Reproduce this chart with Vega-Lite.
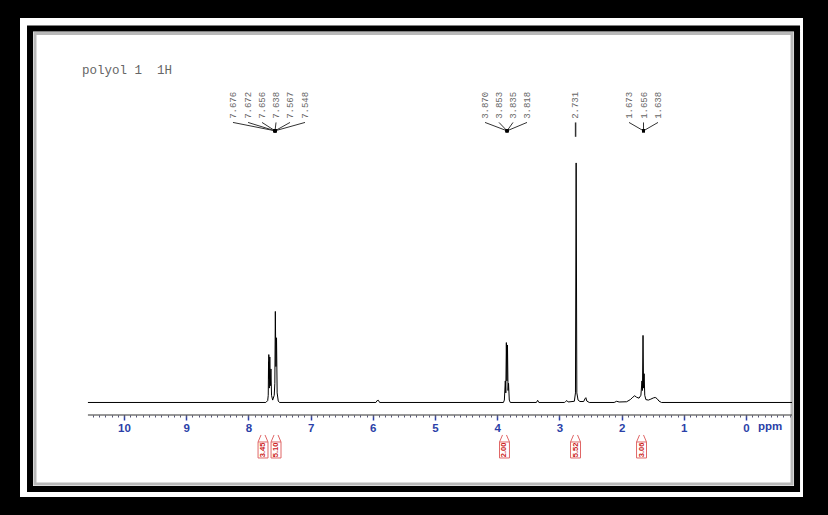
{
  "$schema": "https://vega.github.io/schema/vega-lite/v6.json",
  "width": 783,
  "height": 479,
  "autosize": "none",
  "padding": {"left": 20, "top": 18, "right": 25, "bottom": 18},
  "background": "#000000",
  "config": {"view": {"fill": "#ffffff", "stroke": null}},
  "datasets": {
    "spectrum": [
      {"ppm": 10.58, "i": 0}, {"ppm": 7.72, "i": 0}, {"ppm": 7.69, "i": 0.8}, {"ppm": 7.681, "i": 3},
      {"ppm": 7.676, "i": 17}, {"ppm": 7.674, "i": 10}, {"ppm": 7.672, "i": 20}, {"ppm": 7.664, "i": 6},
      {"ppm": 7.656, "i": 19}, {"ppm": 7.647, "i": 7}, {"ppm": 7.638, "i": 14}, {"ppm": 7.628, "i": 3},
      {"ppm": 7.61, "i": 1}, {"ppm": 7.585, "i": 3}, {"ppm": 7.575, "i": 8}, {"ppm": 7.567, "i": 38},
      {"ppm": 7.558, "i": 15}, {"ppm": 7.548, "i": 27}, {"ppm": 7.538, "i": 4}, {"ppm": 7.52, "i": 0.6},
      {"ppm": 7.5, "i": 0}, {"ppm": 5.95, "i": 0}, {"ppm": 5.93, "i": 0.8}, {"ppm": 5.91, "i": 0.9},
      {"ppm": 5.89, "i": 0}, {"ppm": 3.9, "i": 0}, {"ppm": 3.885, "i": 1}, {"ppm": 3.87, "i": 9},
      {"ppm": 3.862, "i": 4}, {"ppm": 3.853, "i": 25}, {"ppm": 3.844, "i": 9}, {"ppm": 3.835, "i": 24},
      {"ppm": 3.826, "i": 5}, {"ppm": 3.818, "i": 8}, {"ppm": 3.806, "i": 1}, {"ppm": 3.79, "i": 0},
      {"ppm": 3.37, "i": 0}, {"ppm": 3.35, "i": 0.9}, {"ppm": 3.33, "i": 0}, {"ppm": 2.92, "i": 0},
      {"ppm": 2.9, "i": 0.4}, {"ppm": 2.88, "i": 0.8}, {"ppm": 2.86, "i": 0.2}, {"ppm": 2.76, "i": 0.5},
      {"ppm": 2.742, "i": 4}, {"ppm": 2.731, "i": 100}, {"ppm": 2.72, "i": 4}, {"ppm": 2.7, "i": 1},
      {"ppm": 2.67, "i": 0.4}, {"ppm": 2.61, "i": 0.4}, {"ppm": 2.59, "i": 1.5}, {"ppm": 2.575, "i": 2},
      {"ppm": 2.56, "i": 0.6}, {"ppm": 2.52, "i": 0}, {"ppm": 2.12, "i": 0}, {"ppm": 2.08, "i": 0.5},
      {"ppm": 2.04, "i": 0.2}, {"ppm": 1.92, "i": 0.3}, {"ppm": 1.86, "i": 1.2}, {"ppm": 1.82, "i": 2.2},
      {"ppm": 1.79, "i": 2.8}, {"ppm": 1.76, "i": 2.2}, {"ppm": 1.72, "i": 1.8}, {"ppm": 1.69, "i": 3},
      {"ppm": 1.673, "i": 9}, {"ppm": 1.665, "i": 5}, {"ppm": 1.656, "i": 28}, {"ppm": 1.647, "i": 6},
      {"ppm": 1.638, "i": 12}, {"ppm": 1.628, "i": 3}, {"ppm": 1.61, "i": 1.2}, {"ppm": 1.57, "i": 1},
      {"ppm": 1.53, "i": 1.4}, {"ppm": 1.49, "i": 1.9}, {"ppm": 1.46, "i": 2.1}, {"ppm": 1.43, "i": 1.6},
      {"ppm": 1.4, "i": 0.6}, {"ppm": 1.36, "i": 0}, {"ppm": -0.74, "i": 0}
    ],
    "labels": [
      {"label": "7.676", "lx": 8.248}, {"label": "7.672", "lx": 8.006}, {"label": "7.656", "lx": 7.781},
      {"label": "7.638", "lx": 7.556}, {"label": "7.567", "lx": 7.331}, {"label": "7.548", "lx": 7.09},
      {"label": "3.870", "lx": 4.196}, {"label": "3.853", "lx": 3.971}, {"label": "3.835", "lx": 3.746},
      {"label": "3.818", "lx": 3.521}, {"label": "2.731", "lx": 2.749},
      {"label": "1.673", "lx": 1.881}, {"label": "1.656", "lx": 1.648}, {"label": "1.638", "lx": 1.415}
    ],
    "links": [
      {"lx": 8.248, "px": 7.572}, {"lx": 8.006, "px": 7.572}, {"lx": 7.781, "px": 7.572},
      {"lx": 7.556, "px": 7.572}, {"lx": 7.331, "px": 7.572}, {"lx": 7.09, "px": 7.572},
      {"lx": 4.196, "px": 3.842}, {"lx": 3.971, "px": 3.842}, {"lx": 3.746, "px": 3.842}, {"lx": 3.521, "px": 3.842},
      {"lx": 1.881, "px": 1.648}, {"lx": 1.648, "px": 1.648}, {"lx": 1.415, "px": 1.648}
    ],
    "integrals": [
      {"label": "3.45", "from": 7.845, "to": 7.685, "mid": 7.765},
      {"label": "5.10", "from": 7.636, "to": 7.476, "mid": 7.556},
      {"label": "2.00", "from": 3.963, "to": 3.803, "mid": 3.883},
      {"label": "5.52", "from": 2.821, "to": 2.661, "mid": 2.741},
      {"label": "3.06", "from": 1.76, "to": 1.6, "mid": 1.68}
    ],
    "brackets": [
      {"a": 7.797, "b": 7.845}, {"a": 7.733, "b": 7.685},
      {"a": 7.588, "b": 7.636}, {"a": 7.524, "b": 7.476},
      {"a": 3.915, "b": 3.963}, {"a": 3.851, "b": 3.803},
      {"a": 2.773, "b": 2.821}, {"a": 2.709, "b": 2.661},
      {"a": 1.712, "b": 1.76}, {"a": 1.648, "b": 1.6}
    ]
  },
  "layer": [
    {
      "data": {"values": [{}]},
      "mark": {"type": "rect", "fill": null, "stroke": "#000000", "strokeWidth": 6},
      "encoding": {
        "x": {"datum": 11.511, "type": "quantitative", "scale": {"domain": [-0.916, 11.672], "reverse": true, "nice": false, "zero": false}, "axis": null},
        "x2": {"datum": -0.82},
        "y": {"datum": 156.16, "type": "quantitative", "scale": {"domain": [-39.46, 160.5], "nice": false, "zero": false}, "axis": null},
        "y2": {"datum": -36.12}
      }
    },
    {
      "data": {"values": [{}]},
      "mark": {"type": "rect", "fill": null, "stroke": "#9a9a9a", "strokeWidth": 3, "strokeOpacity": 0.7},
      "encoding": {
        "x": {"datum": 11.431, "type": "quantitative", "scale": {"domain": [-0.916, 11.672], "reverse": true, "nice": false, "zero": false}, "axis": null},
        "x2": {"datum": -0.74},
        "y": {"datum": 154.07, "type": "quantitative", "scale": {"domain": [-39.46, 160.5], "nice": false, "zero": false}, "axis": null},
        "y2": {"datum": -34.03}
      }
    },
    {
      "data": {"name": "spectrum"},
      "mark": {"type": "line", "color": "#000000", "strokeWidth": 1},
      "encoding": {
        "x": {"field": "ppm", "type": "quantitative", "scale": {"domain": [-0.916, 11.672], "reverse": true, "nice": false, "zero": false},
          "axis": {"values": [0, 1, 2, 3, 4, 5, 6, 7, 8, 9, 10], "domain": false, "offset": -82, "orient": "bottom", "grid": false, "title": null,
            "tickColor": "#2b3fa8", "tickSize": 5, "tickWidth": 1.5, "labelColor": "#2b3fa8", "labelFont": "Liberation Sans",
            "labelFontWeight": "bold", "labelFontSize": 11.5, "labelPadding": 2, "labelFlush": false, "labelOverlap": false}},
        "y": {"field": "i", "type": "quantitative", "scale": {"domain": [-39.46, 160.5], "nice": false, "zero": false}, "axis": null}
      }
    },
    {
      "data": {"values": [{}]},
      "mark": {"type": "rule", "color": "#333333", "strokeWidth": 1.2},
      "encoding": {
        "x": {"datum": 10.58, "type": "quantitative", "scale": {"domain": [-0.916, 11.672], "reverse": true, "nice": false, "zero": false},
          "axis": {"values": [-0.7, -0.6, -0.5, -0.4, -0.3, -0.2, -0.1, 0, 0.1, 0.2, 0.3, 0.4, 0.5, 0.6, 0.7, 0.8, 0.9,
            1, 1.1, 1.2, 1.3, 1.4, 1.5, 1.6, 1.7, 1.8, 1.9, 2, 2.1, 2.2, 2.3, 2.4, 2.5, 2.6, 2.7, 2.8, 2.9,
            3, 3.1, 3.2, 3.3, 3.4, 3.5, 3.6, 3.7, 3.8, 3.9, 4, 4.1, 4.2, 4.3, 4.4, 4.5, 4.6, 4.7, 4.8, 4.9,
            5, 5.1, 5.2, 5.3, 5.4, 5.5, 5.6, 5.7, 5.8, 5.9, 6, 6.1, 6.2, 6.3, 6.4, 6.5, 6.6, 6.7, 6.8, 6.9,
            7, 7.1, 7.2, 7.3, 7.4, 7.5, 7.6, 7.7, 7.8, 7.9, 8, 8.1, 8.2, 8.3, 8.4, 8.5, 8.6, 8.7, 8.8, 8.9,
            9, 9.1, 9.2, 9.3, 9.4, 9.5, 9.6, 9.7, 9.8, 9.9, 10, 10.1, 10.2, 10.3, 10.4, 10.5],
            "labels": false, "domain": false, "offset": -82, "orient": "bottom", "grid": false, "title": null,
            "tickColor": "#555577", "tickSize": 2, "tickWidth": 1}},
        "x2": {"datum": -0.74},
        "y": {"datum": -5.22, "type": "quantitative", "scale": {"domain": [-39.46, 160.5], "nice": false, "zero": false}, "axis": null}
      }
    },
    {
      "data": {"values": [{"t": "ppm"}]},
      "mark": {"type": "text", "color": "#2b3fa8", "font": "Liberation Sans", "fontWeight": "bold", "fontSize": 11.5, "align": "center", "baseline": "middle"},
      "encoding": {
        "x": {"datum": -0.386, "type": "quantitative", "scale": {"domain": [-0.916, 11.672], "reverse": true, "nice": false, "zero": false}, "axis": null},
        "y": {"datum": -10.23, "type": "quantitative", "scale": {"domain": [-39.46, 160.5], "nice": false, "zero": false}, "axis": null},
        "text": {"field": "t"}
      }
    },
    {
      "data": {"values": [{"t": "polyol 1 \u00a01H"}]},
      "mark": {"type": "text", "color": "#666666", "font": "Liberation Mono", "fontSize": 12.5, "align": "left", "baseline": "middle"},
      "encoding": {
        "x": {"datum": 10.675, "type": "quantitative", "scale": {"domain": [-0.916, 11.672], "reverse": true, "nice": false, "zero": false}, "axis": null},
        "y": {"datum": 138.8, "type": "quantitative", "scale": {"domain": [-39.46, 160.5], "nice": false, "zero": false}, "axis": null},
        "text": {"field": "t"}
      }
    },
    {
      "data": {"name": "labels"},
      "mark": {"type": "text", "color": "#666666", "font": "Liberation Mono", "fontSize": 9, "angle": 270, "align": "left", "baseline": "middle"},
      "encoding": {
        "x": {"field": "lx", "type": "quantitative", "scale": {"domain": [-0.916, 11.672], "reverse": true, "nice": false, "zero": false}, "axis": null},
        "y": {"datum": 118.4, "type": "quantitative", "scale": {"domain": [-39.46, 160.5], "nice": false, "zero": false}, "axis": null},
        "text": {"field": "label"}
      }
    },
    {
      "data": {"name": "links"},
      "mark": {"type": "rule", "color": "#333333", "strokeWidth": 1},
      "encoding": {
        "x": {"field": "lx", "type": "quantitative", "scale": {"domain": [-0.916, 11.672], "reverse": true, "nice": false, "zero": false}, "axis": null},
        "x2": {"field": "px"},
        "y": {"datum": 116.9, "type": "quantitative", "scale": {"domain": [-39.46, 160.5], "nice": false, "zero": false}, "axis": null},
        "y2": {"datum": 113.4}
      }
    },
    {
      "data": {"name": "links"},
      "mark": {"type": "square", "color": "#000000", "size": 9, "opacity": 1},
      "encoding": {
        "x": {"field": "px", "type": "quantitative", "scale": {"domain": [-0.916, 11.672], "reverse": true, "nice": false, "zero": false}, "axis": null},
        "y": {"datum": 113.4, "type": "quantitative", "scale": {"domain": [-39.46, 160.5], "nice": false, "zero": false}, "axis": null}
      }
    },
    {
      "data": {"values": [{}]},
      "mark": {"type": "rule", "color": "#333333", "strokeWidth": 1.5},
      "encoding": {
        "x": {"datum": 2.74, "type": "quantitative", "scale": {"domain": [-0.916, 11.672], "reverse": true, "nice": false, "zero": false}, "axis": null},
        "y": {"datum": 116.9, "type": "quantitative", "scale": {"domain": [-39.46, 160.5], "nice": false, "zero": false}, "axis": null},
        "y2": {"datum": 110.9}
      }
    },
    {
      "data": {"name": "integrals"},
      "mark": {"type": "rect", "fill": null, "stroke": "#e06666", "strokeWidth": 1},
      "encoding": {
        "x": {"field": "from", "type": "quantitative", "scale": {"domain": [-0.916, 11.672], "reverse": true, "nice": false, "zero": false}, "axis": null},
        "x2": {"field": "to"},
        "y": {"datum": -16.49, "type": "quantitative", "scale": {"domain": [-39.46, 160.5], "nice": false, "zero": false}, "axis": null},
        "y2": {"datum": -23.17}
      }
    },
    {
      "data": {"name": "brackets"},
      "mark": {"type": "rule", "color": "#e06666", "strokeWidth": 1},
      "encoding": {
        "x": {"field": "a", "type": "quantitative", "scale": {"domain": [-0.916, 11.672], "reverse": true, "nice": false, "zero": false}, "axis": null},
        "x2": {"field": "b"},
        "y": {"datum": -13.57, "type": "quantitative", "scale": {"domain": [-39.46, 160.5], "nice": false, "zero": false}, "axis": null},
        "y2": {"datum": -16.49}
      }
    },
    {
      "data": {"name": "integrals"},
      "mark": {"type": "text", "color": "#cc2222", "font": "Liberation Sans", "fontWeight": "bold", "fontSize": 7.5, "angle": 270, "align": "center", "baseline": "middle"},
      "encoding": {
        "x": {"field": "mid", "type": "quantitative", "scale": {"domain": [-0.916, 11.672], "reverse": true, "nice": false, "zero": false}, "axis": null},
        "y": {"datum": -19.83, "type": "quantitative", "scale": {"domain": [-39.46, 160.5], "nice": false, "zero": false}, "axis": null},
        "text": {"field": "label"}
      }
    }
  ],
  "resolve": {"axis": {"x": "independent", "y": "independent"}}
}
